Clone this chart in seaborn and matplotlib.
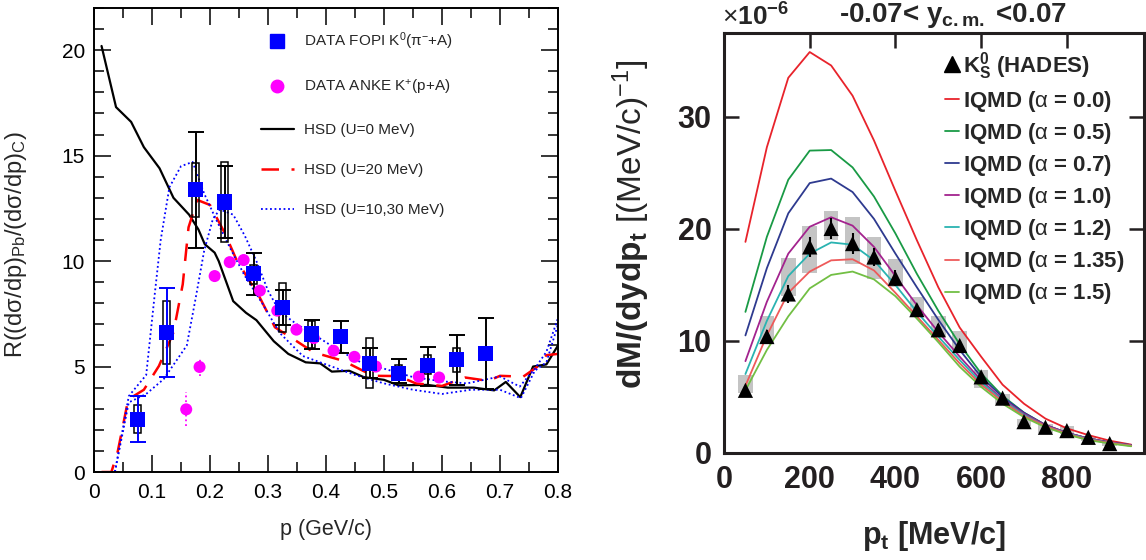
import numpy as np
import pandas as pd
import matplotlib
matplotlib.use("Agg")
import matplotlib.pyplot as plt
from matplotlib.lines import Line2D
from matplotlib.ticker import MultipleLocator, FixedLocator
import seaborn as sns

# ---------------- left panel: Pb/C momentum-spectrum ratio ----------------
fopi_p = [0.075, 0.125, 0.175, 0.225, 0.275, 0.325, 0.375, 0.425, 0.475, 0.525, 0.575, 0.625, 0.675]
fopi_r = [2.49, 6.62, 13.38, 12.80, 9.40, 7.80, 6.54, 6.43, 5.16, 4.68, 5.06, 5.32, 5.62]
fopi_stat_lo = [1.41, 4.52, 10.60, 11.10, 8.37, 6.97, 5.83, 5.63, 4.48, 4.21, 4.08, 4.11, 3.92]
fopi_stat_hi = [3.60, 8.71, 16.10, 14.50, 10.39, 8.63, 7.22, 7.17, 5.86, 5.35, 5.95, 6.49, 7.30]
fopi_sys_lo = [1.83, 5.11, 12.08, 10.90, 8.90, 6.62, 5.90, 6.20, 4.00, 4.48, 4.63, 4.76, 5.40]
fopi_sys_hi = [3.17, 8.13, 14.64, 14.70, 9.83, 8.97, 7.14, 6.70, 6.35, 5.06, 5.54, 5.86, 5.80]

anke_p = [0.159, 0.182, 0.208, 0.234, 0.258, 0.286, 0.316, 0.349, 0.379, 0.413, 0.449, 0.486, 0.525, 0.560, 0.595]
anke_r = [2.97, 4.98, 9.29, 9.95, 10.05, 8.60, 7.65, 6.75, 6.35, 5.75, 5.46, 5.00, 4.68, 4.52, 4.48]
anke_err = [0.80, 0.45, 0.25, 0.20, 0.20, 0.20, 0.15, 0.15, 0.15, 0.12, 0.12, 0.12, 0.10, 0.10, 0.10]

hsd0_p = [0.013, 0.038, 0.064, 0.086, 0.113, 0.137, 0.164, 0.180, 0.191, 0.208, 0.215, 0.240,
          0.262, 0.280, 0.310, 0.335, 0.365, 0.390, 0.410, 0.440, 0.465, 0.500, 0.525, 0.575,
          0.610, 0.655, 0.690, 0.710, 0.735, 0.757, 0.780, 0.800]
hsd0_r = [20.2, 17.3, 16.6, 15.4, 14.4, 13.0, 12.2, 11.5, 10.8, 10.4, 10.0, 8.1,
          7.55, 7.2, 6.2, 5.6, 5.2, 5.15, 4.76, 4.8, 4.5, 4.37, 4.11, 4.13,
          4.0, 4.0, 3.87, 4.27, 3.55, 5.0, 5.1, 6.0]

hsd20_p = [0.013, 0.030, 0.041, 0.059, 0.086, 0.112, 0.137, 0.153, 0.163, 0.178, 0.200, 0.226,
           0.245, 0.265, 0.284, 0.312, 0.344, 0.379, 0.430, 0.481, 0.525, 0.555, 0.600, 0.640,
           0.680, 0.700, 0.740, 0.765, 0.780, 0.800]
hsd20_r = [0.0, 0.0, 0.98, 3.44, 3.9, 5.03, 6.62, 8.9, 11.6, 12.9, 12.66, 11.3,
           10.1, 9.2, 8.37, 6.86, 6.3, 5.67, 5.27, 4.56, 4.55, 4.2, 4.08, 4.48,
           4.32, 4.56, 4.52, 5.0, 5.54, 5.6]

hsd10_p = [0.013, 0.036, 0.060, 0.090, 0.105, 0.115, 0.130, 0.150, 0.170, 0.190, 0.210, 0.235,
           0.260, 0.290, 0.320, 0.360, 0.400, 0.450, 0.500, 0.550, 0.600, 0.650, 0.700, 0.736,
           0.760, 0.780, 0.800]
hsd10_r = [0.0, 0.0, 3.6, 4.6, 8.5, 11.0, 13.5, 14.5, 14.7, 13.2, 12.0, 10.6,
           9.3, 8.0, 6.6, 5.5, 5.1, 4.6, 4.2, 3.9, 3.7, 3.9, 3.9, 3.5,
           4.8, 5.2, 7.0]

hsd30_p = [0.013, 0.036, 0.060, 0.090, 0.120, 0.140, 0.160, 0.175, 0.190, 0.205, 0.217, 0.240,
           0.260, 0.280, 0.300, 0.320, 0.350, 0.380, 0.420, 0.460, 0.500, 0.550, 0.600, 0.643,
           0.700, 0.734, 0.760, 0.780, 0.800]
hsd30_r = [0.0, 0.0, 3.3, 3.7, 4.4, 5.2, 6.0, 8.2, 10.5, 12.0, 12.45, 12.2,
           11.2, 10.0, 8.6, 7.6, 7.0, 6.5, 5.8, 5.2, 4.9, 4.5, 4.3, 4.2,
           4.53, 4.05, 4.9, 5.7, 7.3]

left_xticks = [0.0, 0.1, 0.2, 0.3, 0.4, 0.5, 0.6, 0.7, 0.8]
left_xticklabels = ["0", "0.1", "0.2", "0.3", "0.4", "0.5", "0.6", "0.7", "0.8"]
left_yticks = [0, 5, 10, 15, 20]

# ---------------- right panel: K0S transverse-momentum spectrum ----------------
hades_pt = [50, 100, 150, 200, 250, 300, 350, 400, 450, 500, 550, 600, 650, 700, 750, 800, 850, 900]
hades_y = [5.6, 10.4, 14.2, 18.4, 20.05, 18.7, 17.5, 15.6, 12.8, 11.0, 9.6, 6.8, 4.9, 2.8, 2.3, 2.0, 1.4, 0.84]
hades_stat = [0.4, 0.6, 0.8, 0.9, 0.9, 0.9, 0.8, 0.7, 0.5, 0.5, 0.4, 0.3, 0.3, 0.2, 0.2, 0.15, 0.1, 0.1]
hades_sys_lo = [5.4, 9.8, 14.0, 16.1, 19.0, 16.9, 15.5, 14.8, 12.3, 10.4, 8.9, 5.8, 4.4, 2.4, 1.8, 1.7, 1.05, 0.6]
hades_sys_hi = [7.0, 12.2, 17.4, 20.3, 21.6, 21.1, 19.3, 17.3, 13.9, 12.2, 10.9, 7.4, 5.3, 3.0, 2.6, 2.4, 1.5, 1.0]

iqmd_pt = [50, 100, 150, 200, 250, 300, 350, 400, 450, 500, 550, 600, 650, 700, 750, 800, 850, 900, 950]
iqmd_alpha = ["0.0", "0.5", "0.7", "1.0", "1.2", "1.35", "1.5"]
iqmd_colors = ["#e8232b", "#199a45", "#2e3a8f", "#a3238e", "#2ab3b1", "#ee5a5a", "#72bf44"]
iqmd_a00 = [18.85, 27.3, 33.5, 35.8, 34.6, 31.9, 27.9, 23.4, 19.0, 14.8, 11.2, 8.6, 6.1, 4.4, 3.07, 2.2, 1.6, 1.1, 0.75]
iqmd_a05 = [12.6, 19.3, 24.4, 27.0, 27.05, 25.5, 22.9, 19.6, 16.0, 12.7, 9.7, 7.1, 5.1, 3.6, 2.5, 1.8, 1.3, 0.95, 0.7]
iqmd_a07 = [10.5, 16.5, 21.4, 24.1, 24.5, 23.3, 20.9, 17.8, 14.8, 11.9, 9.2, 6.8, 5.0, 3.6, 2.5, 1.8, 1.3, 0.95, 0.7]
iqmd_a10 = [8.2, 13.5, 17.8, 20.2, 21.05, 20.3, 18.4, 15.8, 13.2, 10.8, 8.6, 6.5, 4.8, 3.5, 2.5, 1.8, 1.3, 0.95, 0.7]
iqmd_a12 = [7.05, 11.8, 15.8, 17.8, 18.8, 18.6, 17.2, 15.0, 12.6, 10.4, 8.3, 6.3, 4.7, 3.4, 2.4, 1.75, 1.25, 0.9, 0.65]
iqmd_a135 = [6.0, 10.5, 14.3, 16.2, 17.2, 17.3, 16.3, 14.3, 12.2, 10.1, 8.0, 6.1, 4.6, 3.3, 2.4, 1.7, 1.2, 0.9, 0.65]
iqmd_a15 = [5.6, 9.2, 12.2, 14.7, 15.9, 16.2, 15.5, 14.0, 12.0, 9.9, 7.7, 5.9, 4.4, 3.2, 2.3, 1.65, 1.15, 0.85, 0.6]
iqmd_curves = [iqmd_a00, iqmd_a05, iqmd_a07, iqmd_a10, iqmd_a12, iqmd_a135, iqmd_a15]

right_xticks = [0, 200, 400, 600, 800]
right_yticks = [0, 10, 20, 30]

# ---------------- style ----------------
sns.set_theme(style="ticks")
plt.rcParams["font.family"] = ["Liberation Sans", "DejaVu Sans"]
plt.rcParams["mathtext.fontset"] = "custom"
plt.rcParams["mathtext.rm"] = "Liberation Sans"
plt.rcParams["mathtext.it"] = "Liberation Sans:italic"
plt.rcParams["mathtext.bf"] = "Liberation Sans:bold"
plt.rcParams["mathtext.sf"] = "Liberation Sans"
plt.rcParams["axes.unicode_minus"] = True

fig = plt.figure(figsize=(11.46, 5.6), dpi=100)
W, H = 1146.0, 560.0
axL = fig.add_axes([94 / W, (H - 472) / H, 464 / W, 464 / H])
axR = fig.add_axes([724 / W, (H - 453) / H, 420 / W, 420 / H])

# ---- left panel drawing ----
fopi_p_a = np.array(fopi_p)
sys_lo = np.array(fopi_sys_lo)
sys_hi = np.array(fopi_sys_hi)
axL.bar(fopi_p_a, sys_hi - sys_lo, bottom=sys_lo, width=0.013, fill=False,
        edgecolor="black", linewidth=1.1, zorder=3)

r = np.array(fopi_r)
lo = np.array(fopi_stat_lo)
hi = np.array(fopi_stat_hi)
yerr = np.vstack([r - lo, hi - r])
axL.errorbar(fopi_p_a[:2], r[:2], yerr=yerr[:, :2], fmt="none", ecolor="#0000ff",
             elinewidth=1.4, capsize=6, capthick=1.4, zorder=4)
axL.errorbar(fopi_p_a[2:], r[2:], yerr=yerr[:, 2:], fmt="none", ecolor="black",
             elinewidth=1.4, capsize=6, capthick=1.4, zorder=4)

anke_err_line = axL.errorbar(anke_p, anke_r, yerr=anke_err, fmt="none", ecolor="#ff00ff",
                             elinewidth=1.3, zorder=4)
anke_err_line[2][0].set_linestyle(":")

sns.lineplot(x=hsd0_p, y=hsd0_r, color="black", linewidth=1.6, ax=axL, zorder=2)
sns.lineplot(x=hsd20_p, y=hsd20_r, color="#ff0000", linewidth=1.8,
             linestyle=(0, (7, 5)), ax=axL, zorder=2)
sns.lineplot(x=hsd10_p, y=hsd10_r, color="#0000ff", linewidth=1.3,
             linestyle=(0, (1, 1.5)), ax=axL, zorder=2)
sns.lineplot(x=hsd30_p, y=hsd30_r, color="#0000ff", linewidth=1.3,
             linestyle=(0, (1, 1.5)), ax=axL, zorder=2)

sns.scatterplot(x=anke_p, y=anke_r, marker="o", s=75, color="#ff00ff",
                edgecolor="none", ax=axL, zorder=5)
sns.scatterplot(x=fopi_p, y=fopi_r, marker="s", s=120, color="#0000ff",
                edgecolor="none", ax=axL, zorder=6)

axL.set_xlim(0, 0.8)
axL.set_ylim(0, 22)
axL.xaxis.set_major_locator(FixedLocator(left_xticks))
axL.set_xticklabels(left_xticklabels)
axL.xaxis.set_minor_locator(MultipleLocator(0.05))
axL.yaxis.set_major_locator(FixedLocator(left_yticks))
axL.yaxis.set_minor_locator(MultipleLocator(1))
axL.tick_params(which="both", direction="in", top=True, right=True, width=1.1,
                colors="black", labelsize=15)
axL.tick_params(axis="x", pad=8)
axL.tick_params(axis="y", pad=6.5)
axL.tick_params(which="major", length=12)
axL.tick_params(which="minor", length=7)
for s in axL.spines.values():
    s.set_linewidth(1.4)
    s.set_color("black")
axL.set_xlabel("p (GeV/c)", fontsize=15.5, labelpad=12)
axL.set_ylabel(r"R((dσ/dp)$_{\rm Pb}$/(dσ/dp)$_{\rm C}$)", fontsize=17)
axL.yaxis.set_label_coords(-0.14, 0.49)

left_handles = [
    Line2D([], [], marker="s", color="#0000ff", markersize=9.5, linestyle="none"),
    Line2D([], [], marker="o", color="#ff00ff", markersize=9, linestyle="none"),
    Line2D([], [], color="black", linewidth=1.6),
    Line2D([], [], color="#ff0000", linewidth=1.8, linestyle=(0, (7, 5))),
    Line2D([], [], color="#0000ff", linewidth=1.3, linestyle=(0, (1, 1.5))),
]
left_labels = [r"DATA FOPI K$^0$($\mathrm{\pi}^{-}$+A)", r"DATA ANKE K$^{+}$(p+A)",
               "HSD (U=0 MeV)", "HSD (U=20 MeV)", "HSD (U=10,30 MeV)"]
axL.legend(left_handles, left_labels, loc="upper left", bbox_to_anchor=(0.36, 0.9515),
           frameon=False, fontsize=11, handlelength=2.15, handletextpad=0.65,
           labelspacing=1.7, borderpad=0, borderaxespad=0)

# ---- right panel drawing ----
pt = np.array(hades_pt)
b_lo = np.array(hades_sys_lo)
b_hi = np.array(hades_sys_hi)
axR.bar(pt, b_hi - b_lo, bottom=b_lo, width=34, color="#c4c4c4", edgecolor="none", zorder=1)

for vals, col in zip(iqmd_curves, iqmd_colors):
    sns.lineplot(x=iqmd_pt, y=vals, color=col, linewidth=1.3, ax=axR, zorder=2)

axR.errorbar(hades_pt, hades_y, yerr=hades_stat, fmt="none", ecolor="black",
             elinewidth=1.5, zorder=3)
sns.scatterplot(x=hades_pt, y=hades_y, marker="^", s=120, color="black",
                edgecolor="none", ax=axR, zorder=4)

axR.set_xlim(0, 980)
axR.set_ylim(0, 37.5)
axR.xaxis.set_major_locator(FixedLocator(right_xticks))
axR.yaxis.set_major_locator(FixedLocator(right_yticks))
axR.tick_params(which="major", direction="in", top=True, right=True, bottom=False,
                length=11, width=1.8, colors="#231f20", labelsize=22, pad=9)
for lab in axR.get_xticklabels() + axR.get_yticklabels():
    lab.set_fontweight("bold")
for s in axR.spines.values():
    s.set_linewidth(2.2)
    s.set_color("#231f20")
axR.set_xlabel(r"p$_{\mathbf{t}}$ [MeV/c]", fontsize=22, fontweight="bold", labelpad=17)
axR.set_ylabel(r"$\mathbf{dM/(dydp_t}$ [(MeV/c)$^{-1}$]", fontsize=24)
axR.yaxis.set_label_coords(-0.171, 0.545)

fig.text(722 / W, 1 - 17 / H, r"$\times$10$^{\mathbf{-6}}$", fontsize=19, fontweight="bold",
         ha="left", va="center")
fig.text(953 / W, 1 - 1 / H, r"-0.07< $\mathbf{y_{c.m.}}$ <0.07", fontsize=20,
         fontweight="bold", ha="center", va="top")

right_handles = [Line2D([], [], marker="^", color="black", markersize=11, linestyle="none")]
right_handles += [Line2D([], [], color=c, linewidth=1.3) for c in iqmd_colors]
right_labels = [r"$\mathbf{K^0_S}$ (HADES)"] + [r"IQMD ($\mathrm{\alpha}$ = %s)" % a for a in iqmd_alpha]
leg = axR.legend(right_handles, right_labels, loc="upper left", bbox_to_anchor=(0.526, 0.96),
                 frameon=False, fontsize=16, handlelength=0.63, handletextpad=0.18,
                 labelspacing=0.32, borderpad=0, borderaxespad=0)
for t in leg.get_texts():
    t.set_fontweight("bold")

fig.savefig("out.png", dpi=100)
